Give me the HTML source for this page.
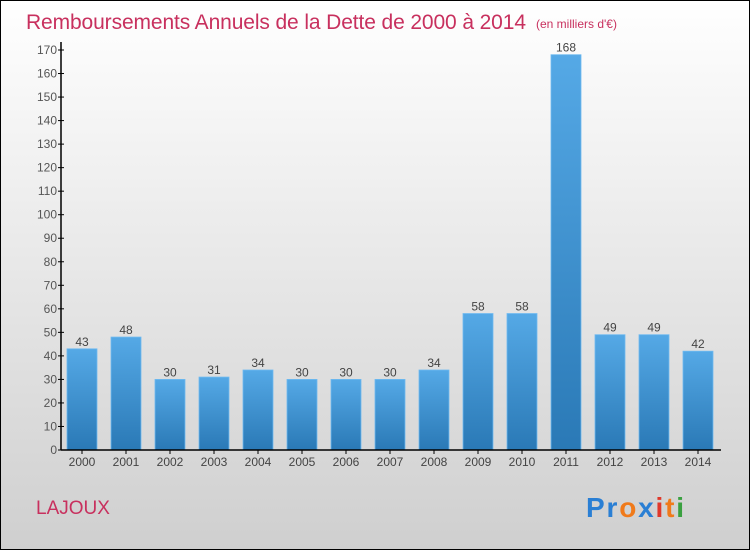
<!DOCTYPE html>
<html><head><meta charset="utf-8"><style>
body{margin:0;}
svg text{font-family:"Liberation Sans",sans-serif;}
</style></head><body>
<svg width="750" height="550" xmlns="http://www.w3.org/2000/svg">
<defs>
<linearGradient id="bg" x1="0" y1="0" x2="0" y2="1"><stop offset="0" stop-color="#ffffff"/><stop offset="1" stop-color="#cfcfcf"/></linearGradient>
<linearGradient id="bar" x1="0" y1="0" x2="0" y2="1"><stop offset="0" stop-color="#55a9e6"/><stop offset="1" stop-color="#2a79b6"/></linearGradient>
</defs>
<rect x="0.5" y="0.5" width="749" height="549" fill="url(#bg)" stroke="#000"/>
<text x="26" y="29" font-size="21" fill="#c8305e" textLength="500">Remboursements Annuels de la Dette de 2000 à 2014</text>
<text x="536" y="28" font-size="12" fill="#c8305e">(en milliers d'€)</text>
<g id="yaxis"></g><g id="bars"></g><g id="xaxis"></g>
<text x="36" y="514" font-size="19" fill="#c8305e">LAJOUX</text>
<text x="586" y="517" font-size="28" font-weight="bold" letter-spacing="2" textLength="100"><tspan fill="#2a7fd4">Pr</tspan><tspan fill="#f07a1a">o</tspan><tspan fill="#2a7fd4">x</tspan><tspan fill="#e0382a">i</tspan><tspan fill="#f07a1a">t</tspan><tspan fill="#3aa040">i</tspan></text>
</svg>
<script>
const years=["2000","2001","2002","2003","2004","2005","2006","2007","2008","2009","2010","2011","2012","2013","2014"];
const values=[43,48,30,31,34,30,30,30,34,58,58,168,49,49,42];
const yTicks=[0,10,20,30,40,50,60,70,80,90,100,110,120,130,140,150,160,170];
const NS="http://www.w3.org/2000/svg";
const x0=61,x1=721,yBase=450,yTop=50,yMax=170;
const y=v=>yBase-(v/yMax)*(yBase-yTop);
const step=(x1-x0)/years.length;
const xc=i=>x0+step*(i+0.5)-1;
function mk(t,a,p){const e=document.createElementNS(NS,t);for(const k in a)e.setAttribute(k,a[k]);p.appendChild(e);return e;}
const ya=document.getElementById('yaxis'),ba=document.getElementById('bars'),xa=document.getElementById('xaxis');
let l=mk('line',{x1:x0,y1:yTop-8,x2:x0,y2:yBase,stroke:'#000','stroke-width':1.5},ya);


yTicks.forEach(v=>{
 const t=mk('line',{x1:x0-3,y1:y(v),x2:x0+3,y2:y(v),stroke:'#000'},ya);
 
 
 const tx=mk('text',{x:x0-4,y:y(v)+4,'font-size':12,fill:'#555','text-anchor':'end'},ya);
 tx.textContent=v;
 
 
});
let xl=mk('line',{x1:x0,y1:yBase,x2:x1,y2:yBase,stroke:'#000','stroke-width':1.5},xa);


years.forEach((yr,i)=>{
 const c=xc(i);
 const r=mk('rect',{x:c-15,y:y(values[i]),width:30,height:yBase-y(values[i]),fill:'url(#bar)',stroke:'#6fbaf0','stroke-width':0.8},ba);
 
 
 const vl=mk('text',{x:c,y:y(values[i])-3,'font-size':12,fill:'#444','text-anchor':'middle'},ba);
 vl.textContent=values[i];
 
 
 const tk=mk('line',{x1:c,y1:yBase,x2:c,y2:yBase+4,stroke:'#000'},xa);
 
 
 const xt=mk('text',{x:c,y:yBase+16,'font-size':12,fill:'#444','text-anchor':'middle'},xa);
 xt.textContent=yr;
 
 
});
</script>
</body></html>
